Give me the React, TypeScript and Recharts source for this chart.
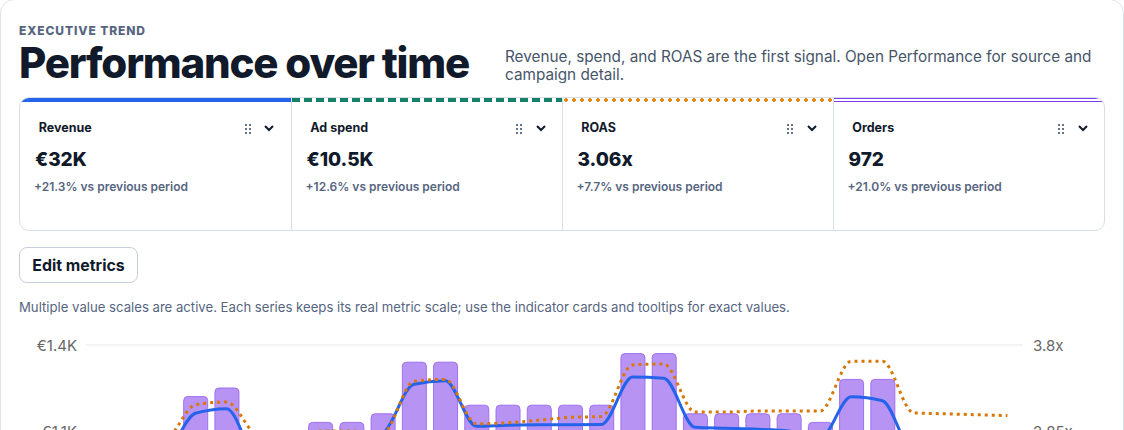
import React from "react";
import { ComposedChart, Bar, Line, XAxis, YAxis, CartesianGrid } from "recharts";

const days = ["d01","d02","d03","d04","d05","d06","d07","d08","d09","d10","d11","d12","d13","d14","d15","d16","d17","d18","d19","d20","d21","d22","d23","d24","d25","d26","d27","d28","d29","d30"];
const orders = [28,29,30,34,35,30,29,31,31,32,38,38,33,33,33,33,33,39,39,32,32,32,32,31,36,36,29,28,28,28];
const revenue = [960,970,965,1122,1141,930,900,950,1000,1040,1240,1255,1069,1073,1075,1075,1076,1270,1265,1065,1061,1057,1050,1020,1189,1173,962,950,945,940];
const roas = [2.8,2.8,2.75,3.14,3.17,2.8,2.75,2.85,2.85,2.83,3.4,3.42,2.93,2.94,2.97,3.0,3.01,3.58,3.59,3.06,3.06,3.07,3.07,3.07,3.62,3.62,3.05,3.04,3.03,3.02];
const revenueTicks = [0,350,700,1050,1400];
const roasTicks = [0,0.95,1.9,2.85,3.8];
const cards = [
  { name: "Revenue", value: "€32K", delta: "+21.3% vs previous period" },
  { name: "Ad spend", value: "€10.5K", delta: "+12.6% vs previous period" },
  { name: "ROAS", value: "3.06x", delta: "+7.7% vs previous period" },
  { name: "Orders", value: "972", delta: "+21.0% vs previous period" },
];

const rows = days.map((day, i) => ({ day, orders: orders[i], revenue: revenue[i], roas: roas[i] }));
const font = "Inter, sans-serif";
const fmtMoney = (v: number) => (v >= 1000 ? `€${(v / 1000).toFixed(1)}K` : `€${v}`);
const fmtRoas = (v: number) => `${v}x`;
const cardLeft = [0, 271.5, 542.5, 813.5];
const separators = [271, 542, 813];
const stripeBase: React.CSSProperties = { position: "absolute", top: 0, height: 4 };
const stripes: React.CSSProperties[] = [
  { ...stripeBase, left: 0, width: 271, background: "#2563eb" },
  { ...stripeBase, left: 271.5, width: 270.5, backgroundImage: "repeating-linear-gradient(90deg,#14806a 0 8px,transparent 8px 12px)" },
  { ...stripeBase, left: 542, width: 271, backgroundImage: "radial-gradient(circle at 2px 2px,#e5860e 1.7px,transparent 2.1px)", backgroundSize: "8px 4px", backgroundPosition: "2px 0", backgroundRepeat: "repeat-x" },
  { ...stripeBase, left: 814, width: 272, boxSizing: "border-box", borderTop: "1.3px solid #7c3aed", borderBottom: "1.3px solid #7c3aed" },
];

function Grip() {
  const dots = [0, 1, 2].flatMap((r) => [0, 1].map((c) => [c, r]));
  return (
    <svg width={6} height={10} style={{ position: "absolute", left: 224.5, top: 26 }}>
      {dots.map(([c, r]) => <rect key={`${c}${r}`} x={c * 4} y={r * 4} width={2} height={2} fill="#64748b" />)}
    </svg>
  );
}
function Chevron() {
  return (
    <svg width={10} height={7} style={{ position: "absolute", left: 244, top: 27 }}>
      <polyline points="1,1 5,5 9,1" fill="none" stroke="#111a2b" strokeWidth={2} />
    </svg>
  );
}

function Card({ c, i }: { c: (typeof cards)[number]; i: number }) {
  return (
    <div style={{ position: "absolute", left: cardLeft[i], top: 0, width: 270, height: 133 }}>
      <div style={{ position: "absolute", left: 18.8, top: 22, fontSize: 12.5, fontWeight: 700, color: "#111a2b" }}>{c.name}</div>
      <Grip />
      <Chevron />
      <div style={{ position: "absolute", left: 15, top: 50, fontSize: 19, fontWeight: 800, color: "#111a2b" }}>{c.value}</div>
      <div style={{ position: "absolute", left: 14, top: 81, fontSize: 12, fontWeight: 600, color: "#56657f", whiteSpace: "nowrap" }}>{c.delta}</div>
    </div>
  );
}

export default function App() {
  return (
    <div style={{ position: "fixed", left: 0, top: 0, width: 1124, height: 430, overflow: "hidden", background: "#fff", fontFamily: font }}>
      <div style={{ position: "absolute", left: 0, top: -1, width: 1124, height: 800, boxSizing: "border-box", border: "1.5px solid #dbe3ee", borderRadius: 14 }} />
      <div style={{ position: "absolute", left: 19, top: 23, fontSize: 12, fontWeight: 800, letterSpacing: 0.9, color: "#56657f", whiteSpace: "nowrap" }}>EXECUTIVE TREND</div>
      <div style={{ position: "absolute", left: 19, top: 38, fontSize: 42, lineHeight: "50px", fontWeight: 800, letterSpacing: -1.2, color: "#111a2b", whiteSpace: "nowrap" }}>Performance over time</div>
      <div style={{ position: "absolute", left: 505, top: 48, fontSize: 15.3, lineHeight: "18px", color: "#475569", whiteSpace: "nowrap" }}>
        Revenue, spend, and ROAS are the first signal. Open Performance for source and<br />campaign detail.
      </div>
      <div style={{ position: "absolute", left: 19, top: 97, width: 1086, height: 134, boxSizing: "border-box", border: "1px solid #d8dfea", borderRadius: 10, overflow: "hidden" }}>
        {stripes.map((s, i) => <div key={i} style={s} />)}
        {separators.map((x) => <div key={x} style={{ position: "absolute", left: x, top: 0, bottom: 0, width: 1, background: "#d8dfea" }} />)}
        {cards.map((c, i) => <Card key={c.name} c={c} i={i} />)}
      </div>
      <div style={{ position: "absolute", left: 19, top: 247, width: 119, height: 36, boxSizing: "border-box", border: "1px solid #c5cfdc", borderRadius: 8, fontSize: 15.9, lineHeight: "35px", textAlign: "center", fontWeight: 700, color: "#111a2b" }}>Edit metrics</div>
      <div style={{ position: "absolute", left: 19, top: 299, fontSize: 13.15, color: "#56657f", whiteSpace: "nowrap" }}>Multiple value scales are active. Each series keeps its real metric scale; use the indicator cards and tooltips for exact values.</div>
      <div style={{ position: "absolute", left: 19, top: 330 }}>
        <ComposedChart width={1086} height={375} data={rows} margin={{ top: 15, right: 0, bottom: 16, left: 0 }}>
          <CartesianGrid horizontal vertical={false} yAxisId="left" stroke="#f4f4f5" strokeWidth={2} />
          <XAxis dataKey="day" hide />
          <YAxis yAxisId="left" width={67} domain={[0, 1400]} ticks={revenueTicks} tickFormatter={fmtMoney} axisLine={false} tickLine={false} tickMargin={3} tick={{ fontSize: 15, fill: "#666", fontFamily: font, dy: 1 }} />
          <YAxis yAxisId="right" orientation="right" width={82} domain={[0, 3.8]} ticks={roasTicks} tickFormatter={fmtRoas} axisLine={false} tickLine={false} tickMargin={4} tick={{ fontSize: 15, fill: "#666", fontFamily: font, dy: 1 }} />
          <YAxis yAxisId="orders" hide domain={[0, 40]} />
          <Bar yAxisId="orders" dataKey="orders" barSize={24} fill="#b794f4" stroke="#9f6ff0" strokeWidth={1} radius={[4, 4, 0, 0]} isAnimationActive={false} />
          <Line yAxisId="left" dataKey="revenue" type="monotone" stroke="#2563eb" strokeWidth={3} dot={false} isAnimationActive={false} />
          <Line yAxisId="right" dataKey="roas" type="monotone" stroke="#d97706" strokeWidth={3} strokeDasharray="3 4" dot={false} isAnimationActive={false} />
        </ComposedChart>
      </div>
    </div>
  );
}
